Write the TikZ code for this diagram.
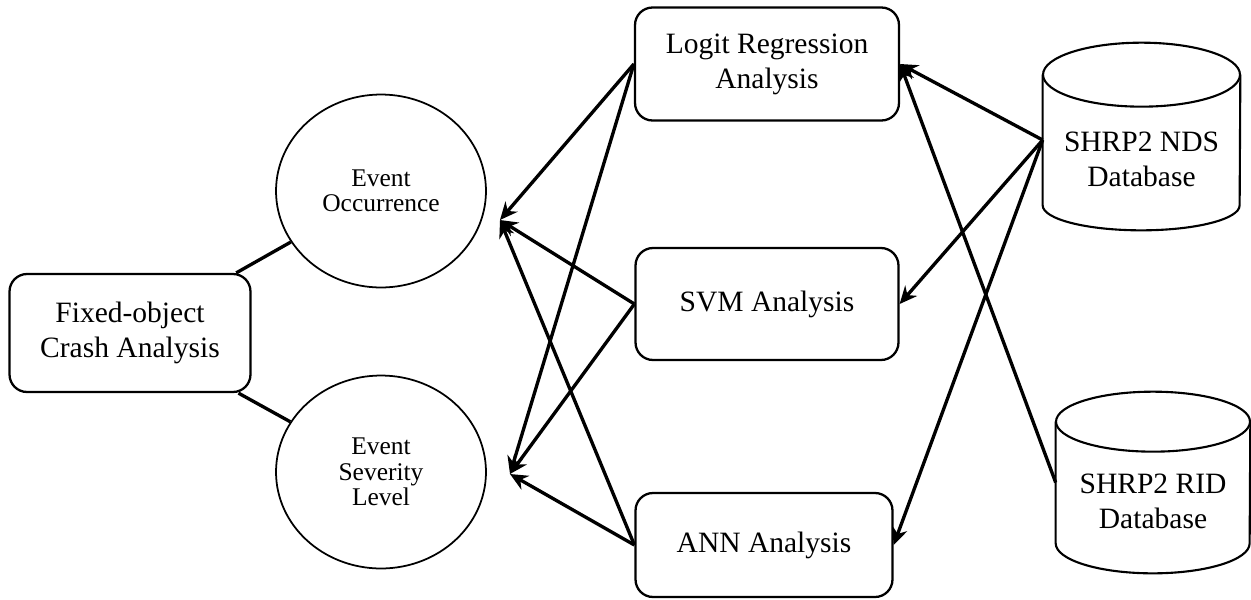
\documentclass[tikz,border=0pt]{standalone}
\usepackage{fontspec}
\setmainfont{Liberation Serif}
\usetikzlibrary{shapes.geometric,arrows.meta}

\begin{document}
\begin{tikzpicture}[x=0.02cm,y=-0.02cm,
		box/.style={draw, line width=1.3pt, rounded corners=0.35cm, align=center, inner sep=0pt, font=\fontsize{16.8}{20}\selectfont},
		event/.style={draw, ellipse, line width=1pt, align=center, inner sep=0pt, minimum width=4.2cm, minimum height=3.86cm, font=\fontsize{14.5}{14.5}\selectfont},
		dbbody/.style={inner sep=0pt},
		dbtext/.style={align=center, inner sep=0pt, font=\fontsize{16.8}{20}\selectfont},
		dbline/.style={line width=1.2pt},
		link/.style={line width=1.9pt},
		arr/.style={line width=1.9pt, -{Stealth[length=10pt,width=9pt]}}]
		\useasboundingbox (0,0) rectangle (1251,599);
		
		\node[box, minimum width=4.82cm, minimum height=2.36cm] (crash) at (130,333) {Fixed-object\\Crash Analysis};
		\node[event] (occ) at (381,191) {Event\\Occurrence};
		\node[event] (sev) at (381,472) {Event\\Severity\\Level};
		
		\node[box, minimum width=5.28cm, minimum height=2.26cm] (logit) at (767,64) {Logit Regression\\Analysis};
		\node[box, minimum width=5.26cm, minimum height=2.24cm] (svm) at (767,304) {SVM Analysis};
		\node[box, minimum width=5.14cm, minimum height=2.08cm] (ann) at (764,545) {ANN Analysis};
		
		% databases: body node, then the cylinder outline round it
		\node[dbbody, minimum width=3.94cm, minimum height=2.6cm] (nds) at (1141.5,140) {};
		\node[dbtext] (ndstext) at (1141.5,159) {SHRP2 NDS\\Database};
		\draw[dbline] (nds.north west) -- (nds.south west) arc[start angle=180, end angle=360, x radius=1.97cm, y radius=0.5cm] -- (nds.north east);
		\draw[dbline] (nds.north) ellipse[x radius=1.97cm, y radius=0.64cm];
		
		\node[dbbody, minimum width=3.88cm, minimum height=2.42cm] (rid) at (1153,482.5) {};
		\node[dbtext] (ridtext) at (1153,501) {SHRP2 RID\\Database};
		\draw[dbline] (rid.north west) -- (rid.south west) arc[start angle=180, end angle=360, x radius=1.94cm, y radius=0.6cm] -- (rid.north east);
		\draw[dbline] (rid.north) ellipse[x radius=1.94cm, y radius=0.6cm];
		
		\coordinate (tipocc) at (500,220);
		\coordinate (tipsev) at (510,474);
		
		\draw[link] (crash) -- (occ);
		\draw[link] (crash) -- (sev);
		
		\foreach \m in {logit,svm,ann}{
			\draw[arr] (\m.west) -- (tipocc);
			\draw[arr] (\m.west) -- (tipsev);
			\draw[arr] (nds.west) -- (\m.east);
		}
		\draw[arr] (rid.west) -- (logit.east);
	\end{tikzpicture}
\end{document}
